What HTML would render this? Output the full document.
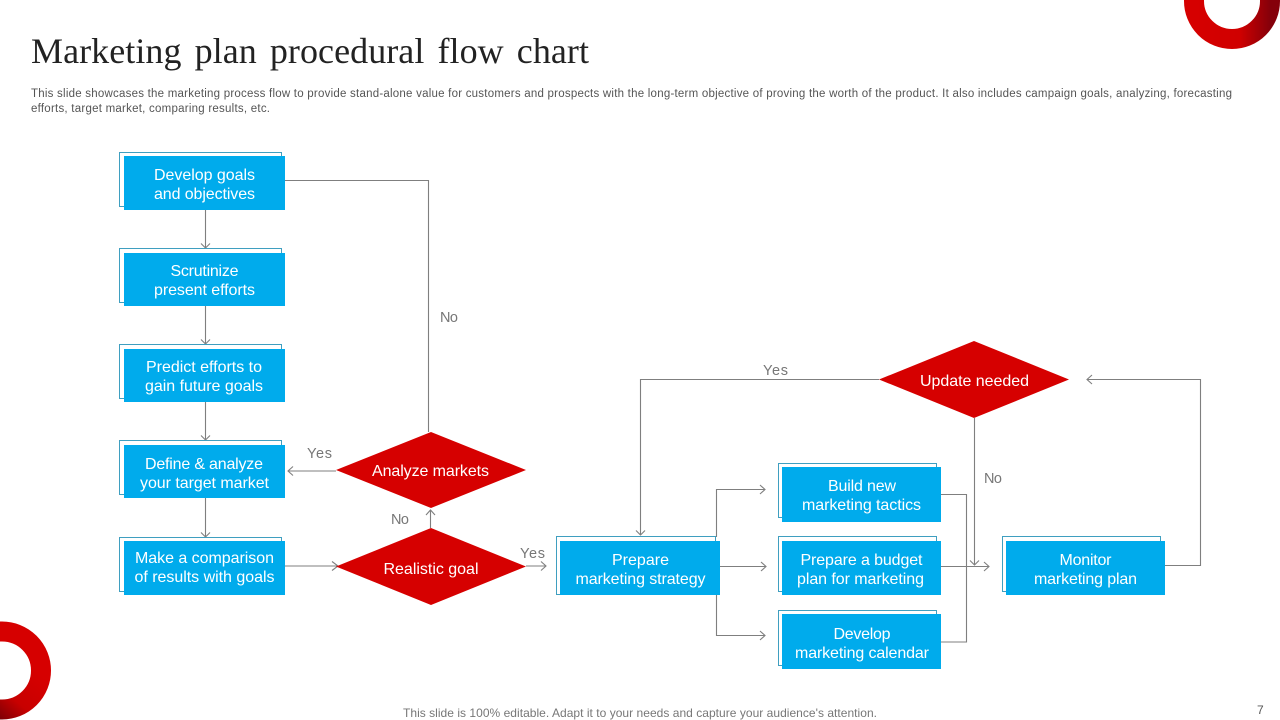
<!DOCTYPE html>
<html><head><meta charset="utf-8"><style>
html,body{margin:0;padding:0;background:#fff;width:1280px;height:720px;overflow:hidden}
svg{display:block}
text{font-family:"Liberation Sans",sans-serif}
.b{fill:#fff;stroke:#3f9fc0;stroke-width:1}
.f{fill:#00abec}
.d{fill:#d60000}
.t{fill:#fff;font-size:16px;text-anchor:middle}
.l{fill:none;stroke:#7f7f7f;stroke-width:1.1}
.g{fill:#777;font-size:14.5px}
</style></head><body>
<svg width="1280" height="720" viewBox="0 0 1280 720" xmlns="http://www.w3.org/2000/svg">
<defs>
<linearGradient id="r1" x1="0" y1="0" x2="1" y2="0"><stop offset="0" stop-color="#d60000"/><stop offset=".6" stop-color="#d00000"/><stop offset="1" stop-color="#85000a"/></linearGradient>
<linearGradient id="r2" x1=".7" y1=".3" x2=".1" y2="1"><stop offset="0" stop-color="#d60000"/><stop offset=".5" stop-color="#c80000"/><stop offset="1" stop-color="#5a0008"/></linearGradient>
</defs>
<circle cx="1232" cy="1" r="38" fill="none" stroke="url(#r1)" stroke-width="20"/>
<circle cx="2" cy="670.500" r="39" fill="none" stroke="url(#r2)" stroke-width="20"/>

<text x="31" y="63" font-size="36" fill="#222" textLength="558" lengthAdjust="spacing" style="font-family:'Liberation Serif',serif;word-spacing:4px">Marketing plan procedural flow chart</text>
<text x="31" y="97" font-size="11.5" fill="#555" textLength="1201">This slide showcases the marketing process flow to provide stand-alone value for customers and prospects with the long-term objective of proving the worth of the product. It also includes campaign goals, analyzing, forecasting</text>
<text x="31" y="112" font-size="11.5" fill="#555" textLength="239">efforts, target market, comparing results, etc.</text>

<!-- connectors -->
<g class="l">
<path d="M285 180.500H428.500V432"/>
<path d="M205.500 210V248M201 243.500L205.500 248L210 243.500"/>
<path d="M205.500 306V344M201 339.500L205.500 344L210 339.500"/>
<path d="M205.500 402V440M201 435.500L205.500 440L210 435.500"/>
<path d="M205.500 498V537M201 532.500L205.500 537L210 532.500"/>
<path d="M336 471H288M293 466.500L288 471L293 475.500"/>
<path d="M285 566H338M332 561.500L338 566L332 570.500"/>
<path d="M430.500 528V510M426 515L430.500 510L435 515"/>
<path d="M526 566H546M541 561.500L546 566L541 570.500"/>
<path d="M879 379.500H640.500V535M636 530.500L640.500 535L645 530.500"/>
<path d="M716.500 537V489.500H765M760 485L765 489.500L760 494"/>
<path d="M720 566.500H766M761 562L766 566.500L761 571"/>
<path d="M716.500 595V635.500H765M760 631L765 635.500L760 640"/>
<path d="M941 494.500H966.500V642H941"/>
<path d="M941 566.500H989M984 562L989 566.500L984 571"/>
<path d="M974.500 418V565M970 560.500L974.500 565L979 560.500"/>
<path d="M1165 565.500H1200.500V379.500H1087M1092 375L1087 379.500L1092 384"/>
</g>

<!-- left boxes -->
<rect class="b" x="119.500" y="152.500" width="162" height="54"/><rect class="f" x="124" y="156" width="161" height="54"/>
<rect class="b" x="119.500" y="248.500" width="162" height="54"/><rect class="f" x="124" y="253" width="161" height="53"/>
<rect class="b" x="119.500" y="344.500" width="162" height="54"/><rect class="f" x="124" y="349" width="161" height="53"/>
<rect class="b" x="119.500" y="440.500" width="162" height="54"/><rect class="f" x="124" y="445" width="161" height="53"/>
<rect class="b" x="119.500" y="537.500" width="162" height="54"/><rect class="f" x="124" y="541" width="161" height="54"/>
<!-- middle -->
<rect class="b" x="556.500" y="536.500" width="159" height="58"/><rect class="f" x="560" y="541" width="160" height="54"/>
<rect class="b" x="778.500" y="463.500" width="158" height="54"/><rect class="f" x="782" y="467" width="159" height="55"/>
<rect class="b" x="778.500" y="536.500" width="158" height="55"/><rect class="f" x="782" y="541" width="159" height="54"/>
<rect class="b" x="778.500" y="610.500" width="158" height="55"/><rect class="f" x="782" y="614" width="159" height="55"/>
<rect class="b" x="1002.500" y="536.500" width="158" height="55"/><rect class="f" x="1006" y="541" width="159" height="54"/>

<!-- diamonds -->
<polygon class="d" points="336,470 431,432 526,470 431,508"/>
<polygon class="d" points="336,566.500 431,528 526,566.500 431,605"/>
<polygon class="d" points="879,379.500 974,341 1069,379.500 974,418"/>

<!-- box text -->
<g class="t">
<text class="t" x="204.500" y="180" textLength="101">Develop goals</text><text class="t" x="204.500" y="199" textLength="101">and objectives</text>
<text class="t" x="204.500" y="276" textLength="68">Scrutinize</text><text class="t" x="204.500" y="295" textLength="101">present efforts</text>
<text class="t" x="204" y="372" textLength="116">Predict efforts to</text><text class="t" x="204" y="391" textLength="118">gain future goals</text>
<text class="t" x="204" y="469" textLength="118">Define &amp; analyze</text><text class="t" x="204.500" y="488" textLength="129">your target market</text>
<text class="t" x="204.500" y="563" textLength="139">Make a comparison</text><text class="t" x="204.500" y="582" textLength="140">of results with goals</text>
<text class="t" x="640.500" y="565" textLength="57">Prepare</text><text class="t" x="640.500" y="584" textLength="130">marketing strategy</text>
<text class="t" x="862" y="491" textLength="68">Build new</text><text class="t" x="861.500" y="510" textLength="119">marketing tactics</text>
<text class="t" x="861.500" y="565" textLength="122">Prepare a budget</text><text class="t" x="860.500" y="584" textLength="127">plan for marketing</text>
<text class="t" x="862" y="639" textLength="57">Develop</text><text class="t" x="862" y="658" textLength="134">marketing calendar</text>
<text class="t" x="1085.500" y="565" textLength="52">Monitor</text><text class="t" x="1085.500" y="584" textLength="103">marketing plan</text>
<text class="t" x="430.500" y="476" textLength="117">Analyze markets</text>
<text class="t" x="431" y="574" textLength="95">Realistic goal</text>
<text class="t" x="974.500" y="386" textLength="109">Update needed</text>
</g>

<!-- labels -->
<text class="g" x="440" y="322" textLength="18">No</text>
<text class="g" x="307" y="458" textLength="25">Yes</text>
<text class="g" x="391" y="524" textLength="18">No</text>
<text class="g" x="520" y="558" textLength="25">Yes</text>
<text class="g" x="763" y="375" textLength="25">Yes</text>
<text class="g" x="984" y="483" textLength="18">No</text>

<text x="403" y="717" font-size="12" fill="#777" textLength="474">This slide is 100% editable. Adapt it to your needs and capture your audience's attention.</text>
<text x="1257" y="714" font-size="12" fill="#555">7</text>
</svg>
</body></html>
